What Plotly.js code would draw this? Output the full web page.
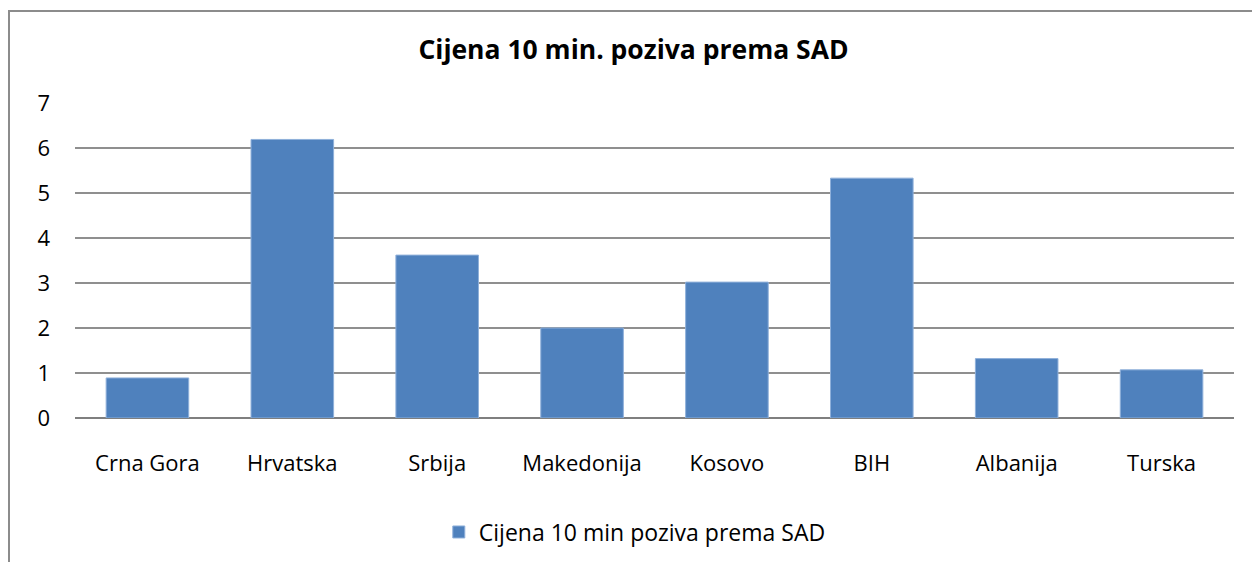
<!DOCTYPE html>
<html>
<head>
<meta charset="utf-8">
<script src="https://cdn.plot.ly/plotly-3.0.1.min.js"></script>
<style>
  html, body { margin: 0; padding: 0; width: 1252px; height: 562px; overflow: hidden; background: #fff; }
  #frame { position: absolute; left: 8px; top: 10px; width: 1400px; height: 700px; border: 2px solid #8c8c8c; box-sizing: border-box; pointer-events: none; z-index: 5; }
  #chart { position: absolute; left: 0; top: 0; width: 1252px; height: 562px; }
</style>
</head>
<body>
<div id="chart"></div>
<div id="frame"></div>
<script>
const categories = ["Crna Gora", "Hrvatska", "Srbija", "Makedonija", "Kosovo", "BIH", "Albanija", "Turska"];
const values = [0.89, 6.19, 3.62, 2.0, 3.02, 5.33, 1.32, 1.07];
const seriesName = "Cijena 10 min poziva prema SAD";
const chartTitle = "Cijena 10 min. poziva prema SAD";
const yTicks = [0, 1, 2, 3, 4, 5, 6, 7];

const font = "Open Sans, Noto Sans, sans-serif";

Plotly.newPlot("chart", [{
  type: "bar",
  x: categories,
  y: values,
  name: seriesName,
  marker: { color: "#4F81BD", line: { color: "#8fb0da", width: 1 } },
  showlegend: true,
  hoverinfo: "x+y"
}], {
  width: 1252,
  height: 562,
  margin: { l: 75, r: 18, t: 103, b: 144, autoexpand: false },
  paper_bgcolor: "#fff",
  plot_bgcolor: "#fff",
  font: { family: font, size: 22, color: "#000" },
  title: { text: "<b>" + chartTitle + "</b>", x: 0.506, xanchor: "center", y: 0.911, yanchor: "middle", font: { family: font, size: 26.5, color: "#000" } },
  bargap: 0.43,
  xaxis: {
    type: "category",
    showgrid: false,
    showline: false,
    zeroline: false,
    ticks: "",
    ticklabelstandoff: 30,
    tickfont: { family: font, size: 22, color: "#000" }
  },
  yaxis: {
    range: [0, 7],
    tickvals: yTicks,
    showgrid: true,
    gridcolor: "#8f8f8f",
    gridwidth: 1.5,
    zeroline: true,
    zerolinecolor: "#7f7f7f",
    zerolinewidth: 2,
    showline: false,
    ticks: "",
    ticklabelstandoff: 24,
    tickfont: { family: font, size: 22, color: "#000" },
    fixedrange: true
  },
  showlegend: true,
  legend: {
    orientation: "h",
    x: 0.483, xanchor: "center",
    y: -0.362, yanchor: "middle",
    font: { family: font, size: 23, color: "#000" },
    itemwidth: 30
  }
}, { displayModeBar: false, staticPlot: true });
</script>
</body>
</html>
